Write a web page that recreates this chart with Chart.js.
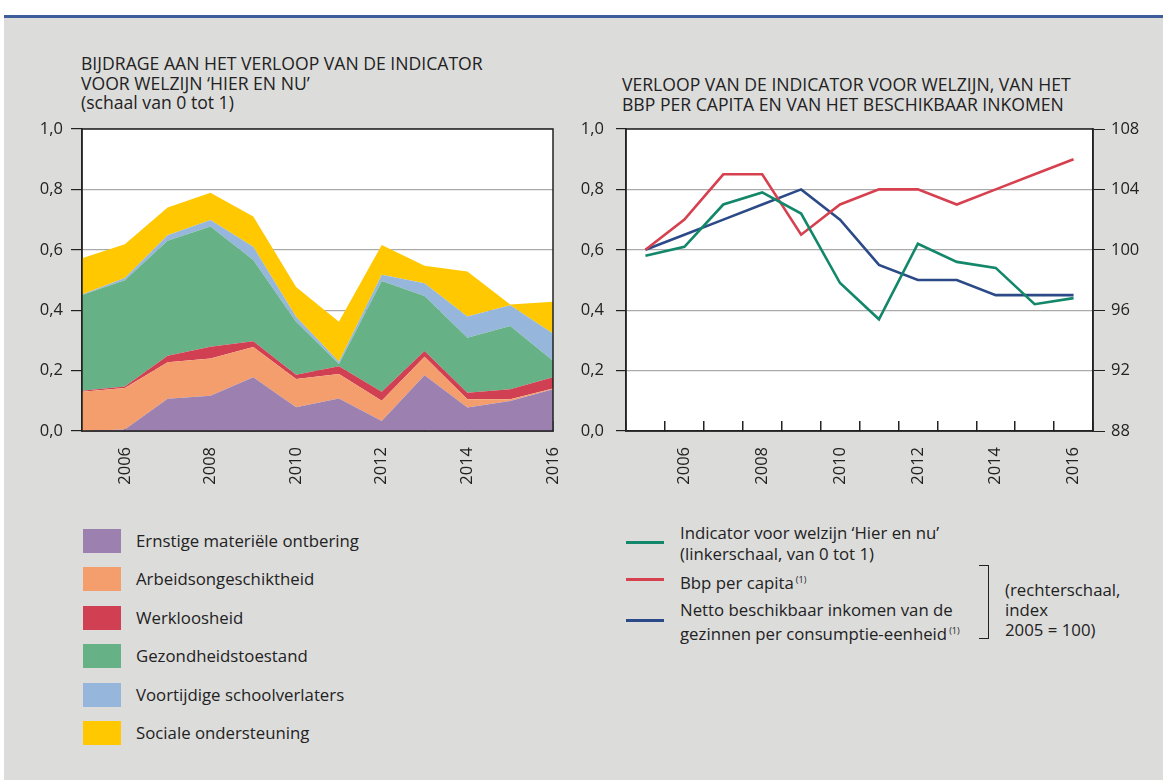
<!DOCTYPE html>
<html>
<head>
<meta charset="utf-8">
<script src="https://cdn.jsdelivr.net/npm/chart.js@4"></script>
<style>
  body { margin: 0; width: 1163px; height: 780px; background: #fff; font-family: "Open Sans", sans-serif; color: #222; overflow: hidden; }
  .panel { position: absolute; left: 4px; top: 15px; width: 1159px; height: 765px; background: #dcdcdb; border-top: 3px solid #3d5d9b; box-sizing: border-box; }
  .title { position: absolute; font-size: 17.6px; line-height: 19.5px; white-space: nowrap; }
  canvas { position: absolute; }
  .lg { position: absolute; font-size: 16.8px; line-height: 21px; white-space: nowrap; }
  .sw { position: absolute; width: 38px; height: 24px; }
  .ln { position: absolute; width: 38px; height: 3px; }
  sup { font-size: 9px; vertical-align: 6px; margin-left: 2px; }
  .bracket { position: absolute; left: 979px; top: 565px; width: 9px; height: 72px; border: 1.5px solid #222; border-left: none; }
</style>
</head>
<body>
<div class="panel"></div>

<div class="title" style="left:81px; top:54px;">BIJDRAGE AAN HET VERLOOP VAN DE INDICATOR<br>VOOR WELZIJN ‘HIER EN NU’<br>(schaal van 0 tot 1)</div>
<div class="title" style="left:622px; top:75px;">VERLOOP VAN DE INDICATOR VOOR WELZIJN, VAN HET<br>BBP PER CAPITA EN VAN HET BESCHIKBAAR INKOMEN</div>

<canvas id="left" width="545" height="370" style="left:30px; top:119px;"></canvas>
<canvas id="right" width="575" height="370" style="left:575px; top:119px;"></canvas>

<div id="legendLeft"></div>

<div class="ln" style="left:626px; top:541px; background:#12876a;"></div>
<div class="ln" style="left:626px; top:578px; background:#d6404f;"></div>
<div class="ln" style="left:626px; top:619px; background:#2b4a87;"></div>
<div class="lg" style="left:680px; top:522px;">Indicator voor welzijn ‘Hier en nu’<br>(linkerschaal, van 0 tot 1)</div>
<div class="lg" style="left:680px; top:569px;">Bbp per capita<sup>(1)</sup></div>
<div class="lg" style="left:680px; top:599px;">Netto beschikbaar inkomen van de<br>gezinnen per consumptie-eenheid<sup>(1)</sup></div>
<div class="bracket"></div>
<div class="lg" style="left:1005px; top:580px; line-height:20px;">(rechterschaal,<br>index<br>2005 = 100)</div>

<script>
// jaren
const years = ['2005','2006','2007','2008','2009','2010','2011','2012','2013','2014','2015','2016'];

// bijdragen (gestapeld)
const ontbering      = [0.000, 0.005, 0.107, 0.117, 0.178, 0.079, 0.108, 0.033, 0.185, 0.078, 0.099, 0.138];
const arbeid         = [0.130, 0.137, 0.121, 0.123, 0.100, 0.093, 0.081, 0.067, 0.061, 0.027, 0.006, 0.003];
const werkloosheid   = [0.003, 0.005, 0.021, 0.039, 0.019, 0.014, 0.025, 0.030, 0.019, 0.022, 0.033, 0.037];
const gezondheid     = [0.317, 0.352, 0.381, 0.398, 0.269, 0.176, 0.008, 0.367, 0.182, 0.182, 0.210, 0.055];
const schoolverlaters= [0.002, 0.008, 0.018, 0.022, 0.044, 0.016, 0.007, 0.020, 0.042, 0.070, 0.068, 0.090];
const sociaal        = [0.120, 0.111, 0.092, 0.090, 0.100, 0.099, 0.133, 0.099, 0.058, 0.149, 0.003, 0.105];

// rechtergrafiek
const indicator = [0.58, 0.61, 0.75, 0.79, 0.72, 0.49, 0.37, 0.62, 0.56, 0.54, 0.42, 0.44];
const bbp       = [100, 102, 105, 105, 101, 103, 104, 104, 103, 104, 105, 106];
const inkomen   = [100, 101, 102, 103, 104, 102, 99, 98, 98, 97, 97, 97];

const rightTicks = [88, 92, 96, 100, 104, 108];

const areaNames  = ['Ernstige materiële ontbering','Arbeidsongeschiktheid','Werkloosheid','Gezondheidstoestand','Voortijdige schoolverlaters','Sociale ondersteuning'];
const areaData   = [ontbering, arbeid, werkloosheid, gezondheid, schoolverlaters, sociaal];
const areaColors = ['#9b80b0','#f49e6e','#d04052','#66b186','#96b7db','#ffc800'];

// legenda links
let html = '';
areaNames.forEach((n, i) => {
  const top = 529 + i * 38.4;
  html += `<div class="sw" style="left:83px; top:${top}px; background:${areaColors[i]}"></div>`;
  html += `<div class="lg" style="left:136px; top:${top + 1}px;">${n}</div>`;
});
document.getElementById('legendLeft').innerHTML = html;

const ink = '#222';
const font = { family: 'Open Sans', size: 16.5 };
const comma = v => v.toFixed(1).replace('.', ',');
const evenOnly = function (v, i) { return +years[i] % 2 === 0 ? years[i] : ''; };
const noPad = s => { s.paddingTop = 0; s.paddingBottom = 0; s.paddingLeft = 0; s.paddingRight = 0; };

// wit vlak + kader
const frame = {
  id: 'frame',
  beforeDraw(c) {
    const a = c.chartArea, ctx = c.ctx;
    ctx.save(); ctx.fillStyle = '#fff';
    ctx.fillRect(a.left, a.top, a.right - a.left, a.bottom - a.top);
    ctx.restore();
  },
  afterDraw(c) {
    const a = c.chartArea, ctx = c.ctx;
    ctx.save(); ctx.strokeStyle = ink; ctx.lineWidth = 1.5;
    ctx.strokeRect(a.left, a.top, a.right - a.left, a.bottom - a.top);
    ctx.restore();
  }
};

Chart.defaults.font.family = 'Open Sans';
Chart.defaults.color = ink;

const xAxis = (offset) => ({
  offset: offset,
  grid: { offset: offset, drawOnChartArea: false, drawTicks: true, tickLength: -10, tickColor: ink, lineWidth: 1.5 },
  border: { display: true, color: ink, width: 1.5 },
  ticks: { autoSkip: false, minRotation: 90, maxRotation: 90, padding: 26, font: font, callback: evenOnly },
  afterFit: s => { s.height = 58; noPad(s); }
});

new Chart(document.getElementById('left'), {
  type: 'line',
  data: {
    labels: years,
    datasets: areaData.map((d, i) => ({
      label: areaNames[i], data: d,
      backgroundColor: areaColors[i], borderWidth: 0, pointRadius: 0,
      fill: i === 0 ? 'origin' : '-1', tension: 0
    }))
  },
  options: {
    responsive: false, animation: false, devicePixelRatio: 1,
    layout: { padding: { left: 0, right: 22, top: 10, bottom: 0 } },
    plugins: { legend: { display: false }, tooltip: { enabled: false } },
    scales: {
      x: xAxis(false),
      y: {
        stacked: true, min: 0, max: 1,
        grid: { color: '#aaa', lineWidth: 1.2, tickLength: 11, tickColor: ink },
        border: { color: ink, width: 1.5 },
        ticks: { stepSize: 0.2, padding: 8, font: font, callback: v => comma(v) },
        afterFit: s => { s.width = 52; noPad(s); }
      }
    }
  },
  plugins: [frame]
});

new Chart(document.getElementById('right'), {
  type: 'line',
  data: {
    labels: years,
    datasets: [
      { label: 'Indicator', data: indicator, yAxisID: 'y', borderColor: '#12876a', borderWidth: 2.6, pointRadius: 0, fill: false },
      { label: 'Bbp', data: bbp, yAxisID: 'y1', borderColor: '#d6404f', borderWidth: 2.6, pointRadius: 0, fill: false },
      { label: 'Inkomen', data: inkomen, yAxisID: 'y1', borderColor: '#2b4a87', borderWidth: 2.6, pointRadius: 0, fill: false }
    ]
  },
  options: {
    responsive: false, animation: false, devicePixelRatio: 1,
    layout: { padding: { left: 0, right: 0, top: 10, bottom: 0 } },
    plugins: { legend: { display: false }, tooltip: { enabled: false } },
    scales: {
      x: xAxis(true),
      y: {
        position: 'left', min: 0, max: 1,
        grid: { color: '#aaa', lineWidth: 1.2, tickLength: 10, tickColor: ink },
        border: { color: ink, width: 1.5 },
        ticks: { stepSize: 0.2, padding: 12, font: font, callback: v => comma(v) },
        afterFit: s => { s.width = 51; noPad(s); }
      },
      y1: {
        position: 'right', min: 88, max: 108,
        afterBuildTicks: s => { s.ticks = rightTicks.map(v => ({ value: v })); },
        grid: { drawOnChartArea: false, tickLength: 12, tickColor: ink },
        border: { color: ink, width: 1.5 },
        ticks: { padding: 6, font: font },
        afterFit: s => { s.width = 57; noPad(s); }
      }
    }
  },
  plugins: [frame]
});
</script>
</body>
</html>
